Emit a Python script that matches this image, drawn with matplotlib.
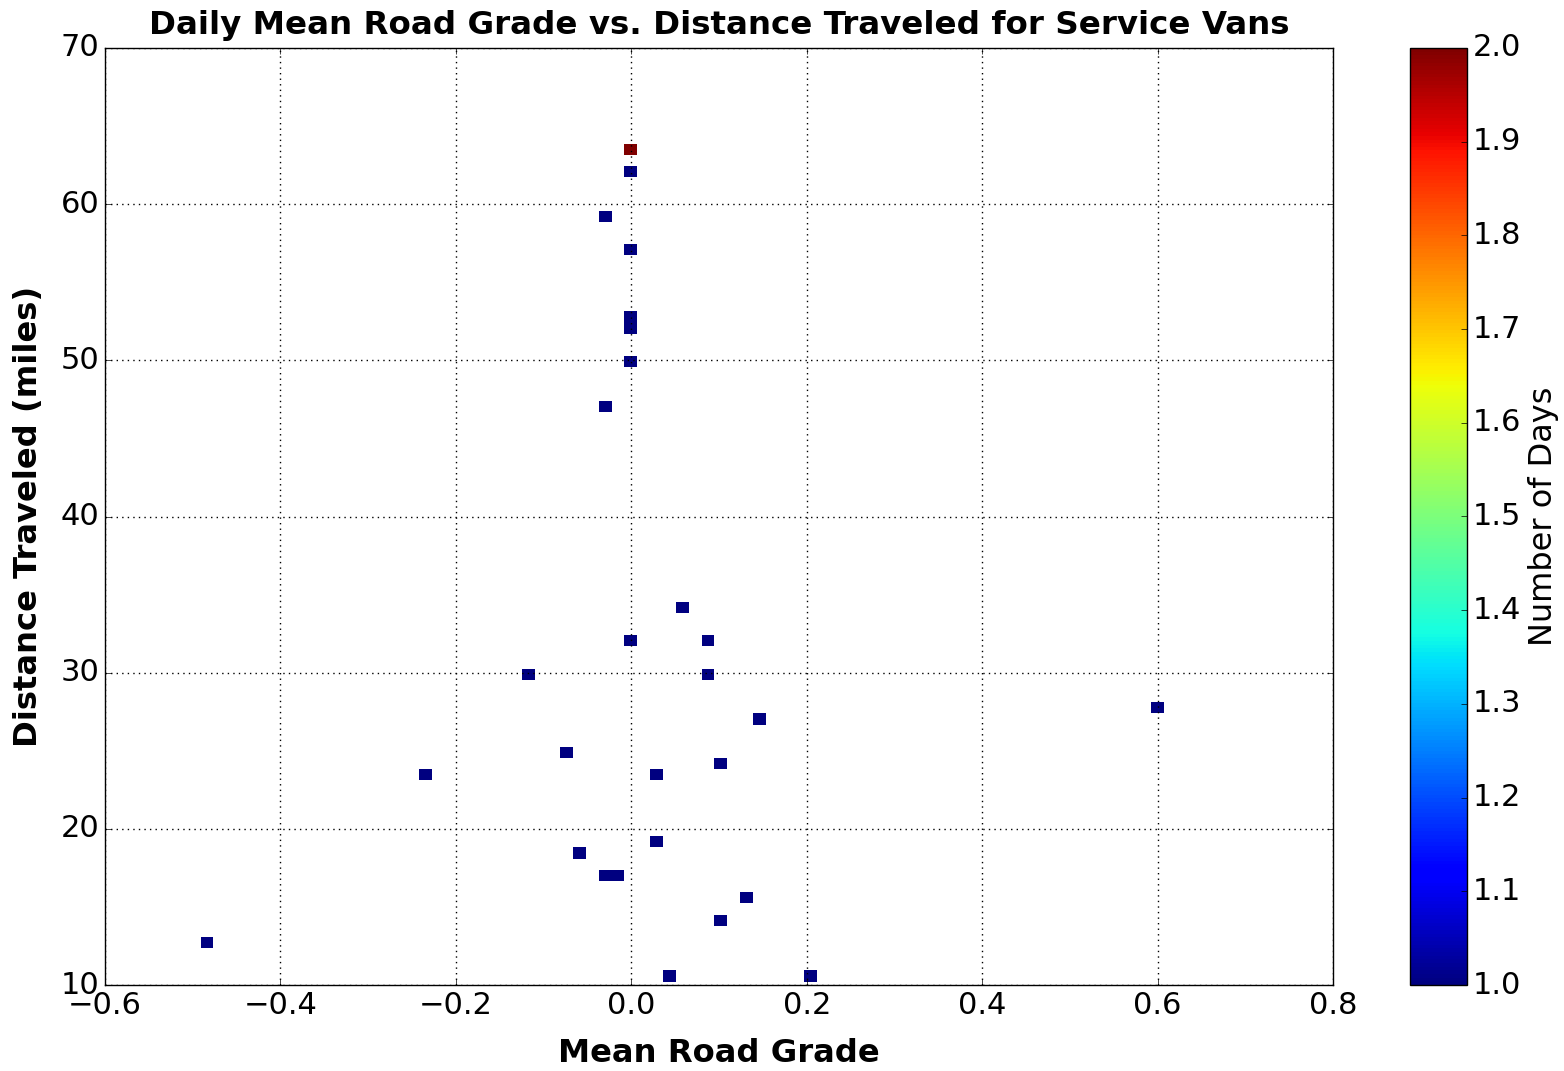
import numpy as np
import matplotlib
matplotlib.use("Agg")
import matplotlib.pyplot as plt

plt.style.use('classic')

# one entry per day: mean road grade and miles driven
grade = [0.0, 0.0, 0.0, -0.030, 0.0, 0.0, 0.0, 0.0, -0.030,
         0.058, 0.0, 0.088, -0.118, 0.088, 0.600, 0.146, -0.074,
         0.102, -0.235, 0.029, -0.059, 0.029, -0.030, -0.015,
         0.131, 0.102, -0.484, 0.044, 0.205]
miles = [63.52, 63.52, 62.09, 59.23, 57.08, 52.79, 52.08, 49.93, 47.07,
         34.19, 32.04, 32.04, 29.90, 29.90, 27.75, 27.04, 24.90,
         24.18, 23.47, 23.47, 18.45, 19.16, 17.02, 17.02,
         15.59, 14.16, 12.72, 10.58, 10.58]

W, H = 1564, 1071
fig = plt.figure(figsize=(W / 100, H / 100), dpi=100)
ax = fig.add_axes([105 / W, (H - 985) / H, 1228 / W, 937 / H])
cax = fig.add_axes([1410 / W, (H - 985) / H, 57 / W, 937 / H])

counts, xe, ye, img = ax.hist2d(grade, miles, bins=75,
                                range=[[-0.491, 0.6073], [10.22, 63.88]],
                                cmin=1, cmap='jet')

ax.set_xlim(-0.6, 0.8)
ax.set_ylim(10, 70)
ax.grid(True, color='black', linestyle=':', linewidth=1)
ax.tick_params(labelsize=22)
ax.set_title('Daily Mean Road Grade vs. Distance Traveled for Service Vans',
             fontsize=23.4, fontweight='bold', pad=10)
ax.set_xlabel('Mean Road Grade', fontsize=23.2, fontweight='bold', labelpad=13)
ax.set_ylabel('Distance Traveled (miles)', fontsize=23.2, fontweight='bold', labelpad=12)

cb = fig.colorbar(img, cax=cax)
cb.set_ticks(np.arange(1.0, 2.01, 0.1))
cb.ax.tick_params(labelsize=22)
cb.set_label('Number of Days', fontsize=23)

plt.savefig('out.png', dpi=100)
